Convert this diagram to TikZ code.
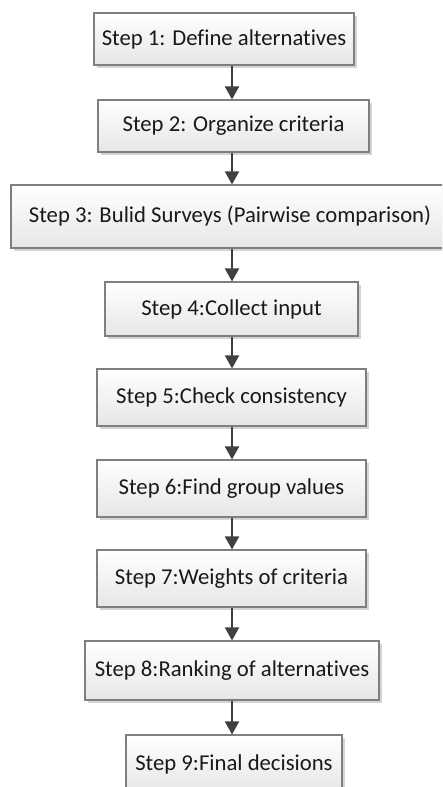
\documentclass[tikz,border=0pt]{standalone}
\usepackage{fontspec}
\setmainfont{Carlito}[RawFeature={-liga}]
\usetikzlibrary{arrows.meta,shadows}
\definecolor{edgegray}{HTML}{7F7F7F}
\definecolor{arrowgray}{HTML}{404040}
\definecolor{shadegray}{HTML}{E6E6E6}
\definecolor{shadowgray}{HTML}{D4D4D4}
\begin{document}
\begin{tikzpicture}[x=1pt,y=-1pt,
  stepbox/.style={rectangle, draw=edgegray, line width=1.1pt,
    top color=white, bottom color=shadegray,
    drop shadow={shadow xshift=3pt, shadow yshift=-3pt, fill=shadowgray, opacity=1},
    font=\fontsize{22.7}{27}\selectfont, text=black!90, inner sep=0pt},
  flow/.style={draw=arrowgray, line width=2pt,
    -{Triangle[length=13pt,width=14pt]}, shorten >=0pt}]
  \useasboundingbox (0,0) rectangle (442,787);
  \clip (0,0) rectangle (442,787);
  \fill[white] (0,0) rectangle (442,787);

  \node[stepbox, minimum width=260pt, minimum height=52pt] (s1) at (224,39) {Step 1: Define alternatives};
  \node[stepbox, minimum width=271pt, minimum height=52pt] (s2) at (233.5,126) {Step 2: Organize criteria};
  \node[stepbox, minimum width=438pt, minimum height=63pt] (s3) at (230,216.5) {Step 3: Bulid Surveys (Pairwise comparison)};
  \node[stepbox, minimum width=253pt, minimum height=54pt] (s4) at (231.5,309) {Step 4:Collect input};
  \node[stepbox, minimum width=269pt, minimum height=57pt] (s5) at (231.5,397.5) {Step 5:Check consistency};
  \node[stepbox, minimum width=269pt, minimum height=57pt] (s6) at (231.5,488.5) {Step 6:Find group values};
  \node[stepbox, minimum width=269pt, minimum height=57pt] (s7) at (231.5,578.5) {Step 7:Weights of criteria};
  \node[stepbox, minimum width=294pt, minimum height=59pt] (s8) at (232,670.5) {Step 8:Ranking of alternatives};
  \node[stepbox, minimum width=216pt, minimum height=58pt] (s9) at (234,764) {Step 9:Final decisions};

  % vertical axis shared by all connectors
  \coordinate (ax) at (232,0);
  \foreach \a/\b in {s1/s2,s2/s3,s3/s4,s4/s5,s5/s6,s6/s7,s7/s8,s8/s9}
    \draw[flow] (\a.south -| ax) -- (\b.north -| ax);
\end{tikzpicture}
\end{document}
